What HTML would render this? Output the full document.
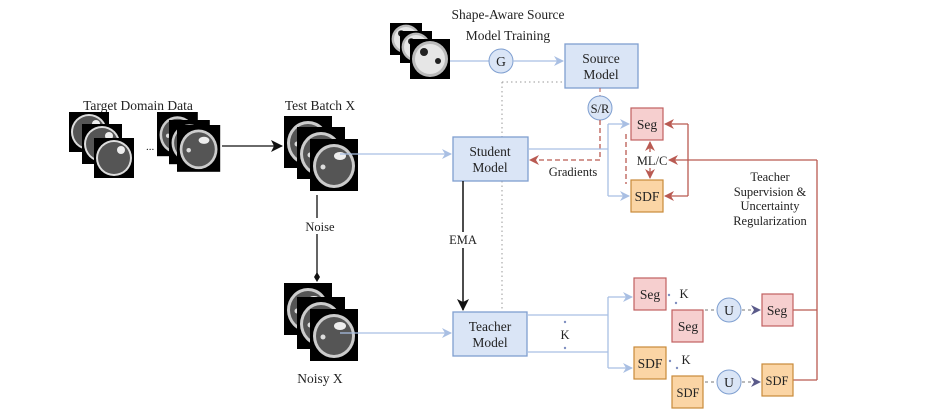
<!DOCTYPE html>
<html><head><style>body{margin:0;background:#fff}svg{display:block}text{font-family:"Liberation Serif",serif;fill:#222}</style></head><body>
<svg width="928" height="420" viewBox="0 0 928 420" xmlns="http://www.w3.org/2000/svg">
<defs>
<marker id="ab" markerWidth="10" markerHeight="10" refX="9" refY="5" orient="auto" markerUnits="userSpaceOnUse"><path d="M0,0 L10,5 L0,10 L3,5z" fill="#a9bfe3"/></marker>
<marker id="ar" markerWidth="10" markerHeight="10" refX="9" refY="5" orient="auto" markerUnits="userSpaceOnUse"><path d="M0,0 L10,5 L0,10 L3,5z" fill="#b95a52"/></marker>
<marker id="ak" markerWidth="12" markerHeight="12" refX="11" refY="6" orient="auto" markerUnits="userSpaceOnUse"><path d="M0,0 L12,6 L0,12 L3,6z" fill="#111"/></marker>
<marker id="ap" markerWidth="10" markerHeight="10" refX="9" refY="5" orient="auto" markerUnits="userSpaceOnUse"><path d="M0,0 L10,5 L0,10 L3,5z" fill="#5a5a8a"/></marker>
<g id="mri"><rect width="48" height="52" fill="#000"/><ellipse cx="24" cy="27" rx="21" ry="22" fill="#ccc"/><ellipse cx="24" cy="27" rx="18" ry="19" fill="#555"/><ellipse cx="30" cy="17" rx="6" ry="4" fill="#eee"/><circle cx="13" cy="28" r="2.5" fill="#ddd"/></g>
<g id="mri2"><rect width="40" height="40" fill="#000"/><circle cx="20" cy="20" r="18" fill="#ddd"/><circle cx="20" cy="20" r="16" fill="#555"/><circle cx="27" cy="12" r="4" fill="#eee"/></g>
<g id="mri3"><rect width="40" height="40" fill="#000"/><circle cx="20" cy="20" r="18" fill="#bbb"/><circle cx="20" cy="20" r="15" fill="#e6e6e6"/><circle cx="14" cy="13" r="4" fill="#222"/><circle cx="28" cy="22" r="3" fill="#222"/></g>
</defs>
<text x="138" y="110" font-size="13.5" text-anchor="middle">Target Domain Data</text>
<use href="#mri2" x="69" y="112"/><use href="#mri2" x="82" y="124"/><use href="#mri2" x="94" y="138"/>
<text x="146" y="150" font-size="11">...</text>
<g transform="translate(157,112) scale(0.85)"><use href="#mri"/></g><g transform="translate(169,120) scale(0.85)"><use href="#mri"/></g><g transform="translate(177,125) scale(0.9)"><use href="#mri"/></g>
<line x1="222" y1="146" x2="282" y2="146" stroke="#111" stroke-width="1.3" marker-end="url(#ak)"/>
<text x="320" y="110" font-size="13.5" text-anchor="middle">Test Batch X</text>
<use href="#mri" x="284" y="116"/><use href="#mri" x="297" y="127"/><use href="#mri" x="310" y="139"/>
<line x1="317" y1="195" x2="317" y2="278" stroke="#111" stroke-width="1.3"/>
<rect x="300" y="218" width="36" height="16" fill="#fff"/>
<text x="320" y="231" font-size="12.5" text-anchor="middle">Noise</text>
<path d="M317,272 L320,277 L317,282 L314,277z" fill="#111"/>
<use href="#mri" x="284" y="283"/><use href="#mri" x="297" y="297"/><use href="#mri" x="310" y="309"/>
<text x="320" y="383" font-size="13.5" text-anchor="middle">Noisy X</text>
<g transform="translate(390,23) scale(0.8)"><use href="#mri3"/></g><g transform="translate(400,31) scale(0.8)"><use href="#mri3"/></g><g transform="translate(410,39) scale(1)"><use href="#mri3"/></g>
<text x="508" y="19" font-size="13.5" text-anchor="middle">Shape-Aware Source</text>
<text x="508" y="40" font-size="13.5" text-anchor="middle">Model Training</text>
<line x1="450" y1="61" x2="489" y2="61" stroke="#a9bfe3" stroke-width="1.3"/>
<circle cx="501" cy="61" r="12" fill="#dae5f6" stroke="#7f9fd0"/><text x="501" y="66" font-size="13.5" text-anchor="middle">G</text>
<line x1="513" y1="61" x2="563" y2="61" stroke="#a9bfe3" stroke-width="1.3" marker-end="url(#ab)"/>
<rect x="565" y="44" width="73" height="44" fill="#dae5f6" stroke="#7f9fd0" stroke-width="1.3"/>
<text x="601" y="63" font-size="13.5" text-anchor="middle">Source</text><text x="601" y="79" font-size="13.5" text-anchor="middle">Model</text>
<path d="M502,82 L565,82 M502,82 L502,312" stroke="#999" stroke-dasharray="1.5,3" fill="none"/>
<line x1="600" y1="88" x2="600" y2="96" stroke="#b95a52" stroke-dasharray="4,3"/>
<circle cx="600" cy="108" r="12" fill="#dae5f6" stroke="#7f9fd0"/><text x="600" y="113" font-size="12.5" text-anchor="middle">S/R</text>
<path d="M600,120 L600,160 L530,160" stroke="#b95a52" stroke-width="1.3" stroke-dasharray="5,3" fill="none" marker-end="url(#ar)"/>
<text x="573" y="176" font-size="12.5" text-anchor="middle">Gradients</text>
<path d="M626,134 L626,184" stroke="#b95a52" stroke-width="1.3" stroke-dasharray="5,3"/>
<line x1="340" y1="154" x2="451" y2="154" stroke="#a9bfe3" stroke-width="1.3" marker-end="url(#ab)"/>
<rect x="453" y="137" width="75" height="44" fill="#dae5f6" stroke="#7f9fd0" stroke-width="1.3"/>
<text x="490" y="156" font-size="13.5" text-anchor="middle">Student</text><text x="490" y="172" font-size="13.5" text-anchor="middle">Model</text>
<path d="M528,149 L608,149 M608,124 L608,196" stroke="#a9bfe3" stroke-width="1.3" fill="none"/>
<line x1="608" y1="124" x2="629" y2="124" stroke="#a9bfe3" stroke-width="1.3" marker-end="url(#ab)"/>
<line x1="608" y1="196" x2="629" y2="196" stroke="#a9bfe3" stroke-width="1.3" marker-end="url(#ab)"/>
<rect x="631" y="108" width="32" height="32" fill="#f6cfcf" stroke="#c06060" stroke-width="1.2"/><text x="647" y="129" font-size="13.5" text-anchor="middle">Seg</text>
<rect x="631" y="180" width="32" height="32" fill="#fbd5a5" stroke="#c98a3a" stroke-width="1.2"/><text x="647" y="201" font-size="13.5" text-anchor="middle">SDF</text>
<text x="652" y="165" font-size="12.5" text-anchor="middle">ML/C</text>
<line x1="650" y1="152" x2="650" y2="142" stroke="#b95a52" stroke-width="1.3" marker-end="url(#ar)"/>
<line x1="650" y1="168" x2="650" y2="178" stroke="#b95a52" stroke-width="1.3" marker-end="url(#ar)"/>
<path d="M688,124 L688,196" stroke="#b95a52" stroke-width="1.3"/>
<line x1="688" y1="124" x2="665" y2="124" stroke="#b95a52" stroke-width="1.3" marker-end="url(#ar)"/>
<line x1="688" y1="196" x2="665" y2="196" stroke="#b95a52" stroke-width="1.3" marker-end="url(#ar)"/>
<path d="M817,160 L817,380 M793,310 L817,310 M793,380 L817,380" stroke="#b95a52" stroke-width="1.3" fill="none"/>
<line x1="817" y1="160" x2="669" y2="160" stroke="#b95a52" stroke-width="1.3" marker-end="url(#ar)"/>
<text x="770" y="181" font-size="12.5" text-anchor="middle">Teacher</text>
<text x="770" y="196" font-size="12.5" text-anchor="middle">Supervision &amp;</text>
<text x="770" y="210" font-size="12.5" text-anchor="middle">Uncertainty</text>
<text x="770" y="225" font-size="12.5" text-anchor="middle">Regularization</text>
<line x1="463" y1="181" x2="463" y2="310" stroke="#111" stroke-width="1.5" marker-end="url(#ak)"/>
<rect x="446" y="232" width="34" height="16" fill="#fff"/>
<text x="463" y="244" font-size="12.5" text-anchor="middle">EMA</text>
<line x1="340" y1="333" x2="451" y2="333" stroke="#a9bfe3" stroke-width="1.3" marker-end="url(#ab)"/>
<rect x="453" y="312" width="74" height="44" fill="#dae5f6" stroke="#7f9fd0" stroke-width="1.3"/>
<text x="490" y="331" font-size="13.5" text-anchor="middle">Teacher</text><text x="490" y="347" font-size="13.5" text-anchor="middle">Model</text>
<path d="M527,315 L608,315 M527,352 L608,352 M608,297 L608,368" stroke="#a9bfe3" stroke-width="1.3" fill="none"/>
<line x1="608" y1="297" x2="632" y2="297" stroke="#a9bfe3" stroke-width="1.3" marker-end="url(#ab)"/>
<line x1="608" y1="368" x2="632" y2="368" stroke="#a9bfe3" stroke-width="1.3" marker-end="url(#ab)"/>
<circle cx="565" cy="322" r="1.2" fill="#7f8fc0"/><text x="565" y="339" font-size="12.5" text-anchor="middle">K</text><circle cx="565" cy="348" r="1.2" fill="#7f8fc0"/>
<rect x="634" y="278" width="32" height="32" fill="#f6cfcf" stroke="#c06060" stroke-width="1.2"/><text x="650" y="299" font-size="13.5" text-anchor="middle">Seg</text>
<rect x="672" y="310" width="31" height="32" fill="#f6cfcf" stroke="#c06060" stroke-width="1.2"/><text x="688" y="331" font-size="13.5" text-anchor="middle">Seg</text>
<text x="684" y="298" font-size="12.5" text-anchor="middle">K</text>
<circle cx="669" cy="295" r="1.2" fill="#7f8fc0"/><circle cx="676" cy="303" r="1.2" fill="#7f8fc0"/>
<rect x="634" y="347" width="32" height="32" fill="#fbd5a5" stroke="#c98a3a" stroke-width="1.2"/><text x="650" y="368" font-size="13.5" text-anchor="middle">SDF</text>
<rect x="672" y="376" width="31" height="32" fill="#fbd5a5" stroke="#c98a3a" stroke-width="1.2"/><text x="688" y="397" font-size="12.5" text-anchor="middle">SDF</text>
<text x="686" y="364" font-size="12.5" text-anchor="middle">K</text>
<circle cx="670" cy="361" r="1.2" fill="#7f8fc0"/><circle cx="677" cy="368" r="1.2" fill="#7f8fc0"/>
<line x1="705" y1="310" x2="716" y2="310" stroke="#777" stroke-dasharray="3,3"/>
<circle cx="729" cy="310" r="12" fill="#dae5f6" stroke="#7f9fd0"/><text x="729" y="315" font-size="13.5" text-anchor="middle">U</text>
<line x1="742" y1="310" x2="760" y2="310" stroke="#777" stroke-dasharray="3,3" marker-end="url(#ap)"/>
<rect x="762" y="294" width="31" height="32" fill="#f6cfcf" stroke="#c06060" stroke-width="1.2"/><text x="777" y="315" font-size="13.5" text-anchor="middle">Seg</text>
<line x1="705" y1="382" x2="716" y2="382" stroke="#777" stroke-dasharray="3,3"/>
<circle cx="729" cy="382" r="12" fill="#dae5f6" stroke="#7f9fd0"/><text x="729" y="387" font-size="13.5" text-anchor="middle">U</text>
<line x1="742" y1="382" x2="760" y2="382" stroke="#777" stroke-dasharray="3,3" marker-end="url(#ap)"/>
<rect x="762" y="364" width="31" height="32" fill="#fbd5a5" stroke="#c98a3a" stroke-width="1.2"/><text x="777" y="385" font-size="12.5" text-anchor="middle">SDF</text>
</svg>
</body></html>
